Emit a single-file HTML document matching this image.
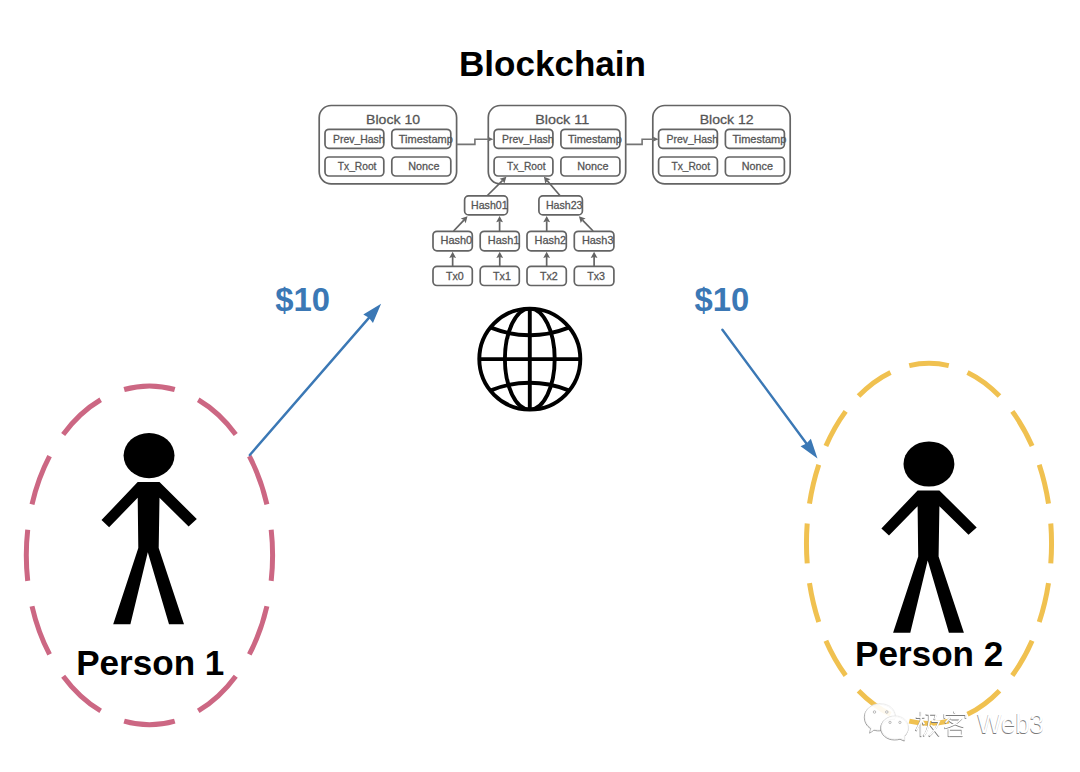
<!DOCTYPE html>
<html><head><meta charset="utf-8"><style>
html,body{margin:0;padding:0;background:#fff;}
body{width:1080px;height:772px;overflow:hidden;}
svg{display:block;font-family:"Liberation Sans", sans-serif;opacity:0.999;}
</style></head><body>
<svg width="1080" height="772" viewBox="0 0 1080 772">
<rect width="1080" height="772" fill="#fff"/>
<rect x="319.20" y="105.50" width="137.40" height="78.30" rx="12" ry="12" fill="none" stroke="#646464" stroke-width="1.7"/>
<rect x="325.00" y="129.30" width="58.80" height="19.00" rx="4" ry="4" fill="none" stroke="#646464" stroke-width="1.7"/>
<rect x="391.80" y="129.30" width="59.00" height="19.00" rx="4" ry="4" fill="none" stroke="#646464" stroke-width="1.7"/>
<rect x="325.00" y="157.00" width="58.80" height="19.00" rx="4" ry="4" fill="none" stroke="#646464" stroke-width="1.7"/>
<rect x="391.80" y="157.00" width="59.00" height="19.00" rx="4" ry="4" fill="none" stroke="#646464" stroke-width="1.7"/>
<text x="366.10" y="124.10" font-size="13.2" fill="#555555" text-anchor="start" font-weight="normal" textLength="54.0" lengthAdjust="spacingAndGlyphs" stroke="#555" stroke-width="0.28">Block 10</text>
<text x="333.00" y="142.60" font-size="10.5" fill="#555555" text-anchor="start" font-weight="normal" textLength="51.5" lengthAdjust="spacingAndGlyphs" stroke="#555" stroke-width="0.28">Prev_Hash</text>
<text x="398.80" y="142.60" font-size="10.5" fill="#555555" text-anchor="start" font-weight="normal" textLength="54.0" lengthAdjust="spacingAndGlyphs" stroke="#555" stroke-width="0.28">Timestamp</text>
<text x="337.80" y="169.60" font-size="10.5" fill="#555555" text-anchor="start" font-weight="normal" textLength="38.6" lengthAdjust="spacingAndGlyphs" stroke="#555" stroke-width="0.28">Tx_Root</text>
<text x="408.20" y="169.60" font-size="10.5" fill="#555555" text-anchor="start" font-weight="normal" textLength="31.2" lengthAdjust="spacingAndGlyphs" stroke="#555" stroke-width="0.28">Nonce</text>
<rect x="488.30" y="105.50" width="137.40" height="78.30" rx="12" ry="12" fill="none" stroke="#646464" stroke-width="1.7"/>
<rect x="494.10" y="129.30" width="58.80" height="19.00" rx="4" ry="4" fill="none" stroke="#646464" stroke-width="1.7"/>
<rect x="560.90" y="129.30" width="59.00" height="19.00" rx="4" ry="4" fill="none" stroke="#646464" stroke-width="1.7"/>
<rect x="494.10" y="157.00" width="58.80" height="19.00" rx="4" ry="4" fill="none" stroke="#646464" stroke-width="1.7"/>
<rect x="560.90" y="157.00" width="59.00" height="19.00" rx="4" ry="4" fill="none" stroke="#646464" stroke-width="1.7"/>
<text x="535.20" y="124.10" font-size="13.2" fill="#555555" text-anchor="start" font-weight="normal" textLength="54.0" lengthAdjust="spacingAndGlyphs" stroke="#555" stroke-width="0.28">Block 11</text>
<text x="502.10" y="142.60" font-size="10.5" fill="#555555" text-anchor="start" font-weight="normal" textLength="51.5" lengthAdjust="spacingAndGlyphs" stroke="#555" stroke-width="0.28">Prev_Hash</text>
<text x="567.90" y="142.60" font-size="10.5" fill="#555555" text-anchor="start" font-weight="normal" textLength="54.0" lengthAdjust="spacingAndGlyphs" stroke="#555" stroke-width="0.28">Timestamp</text>
<text x="506.90" y="169.60" font-size="10.5" fill="#555555" text-anchor="start" font-weight="normal" textLength="38.6" lengthAdjust="spacingAndGlyphs" stroke="#555" stroke-width="0.28">Tx_Root</text>
<text x="577.30" y="169.60" font-size="10.5" fill="#555555" text-anchor="start" font-weight="normal" textLength="31.2" lengthAdjust="spacingAndGlyphs" stroke="#555" stroke-width="0.28">Nonce</text>
<rect x="652.80" y="105.50" width="137.40" height="78.30" rx="12" ry="12" fill="none" stroke="#646464" stroke-width="1.7"/>
<rect x="658.60" y="129.30" width="58.80" height="19.00" rx="4" ry="4" fill="none" stroke="#646464" stroke-width="1.7"/>
<rect x="725.40" y="129.30" width="59.00" height="19.00" rx="4" ry="4" fill="none" stroke="#646464" stroke-width="1.7"/>
<rect x="658.60" y="157.00" width="58.80" height="19.00" rx="4" ry="4" fill="none" stroke="#646464" stroke-width="1.7"/>
<rect x="725.40" y="157.00" width="59.00" height="19.00" rx="4" ry="4" fill="none" stroke="#646464" stroke-width="1.7"/>
<text x="699.70" y="124.10" font-size="13.2" fill="#555555" text-anchor="start" font-weight="normal" textLength="54.0" lengthAdjust="spacingAndGlyphs" stroke="#555" stroke-width="0.28">Block 12</text>
<text x="666.60" y="142.60" font-size="10.5" fill="#555555" text-anchor="start" font-weight="normal" textLength="51.5" lengthAdjust="spacingAndGlyphs" stroke="#555" stroke-width="0.28">Prev_Hash</text>
<text x="732.40" y="142.60" font-size="10.5" fill="#555555" text-anchor="start" font-weight="normal" textLength="54.0" lengthAdjust="spacingAndGlyphs" stroke="#555" stroke-width="0.28">Timestamp</text>
<text x="671.40" y="169.60" font-size="10.5" fill="#555555" text-anchor="start" font-weight="normal" textLength="38.6" lengthAdjust="spacingAndGlyphs" stroke="#555" stroke-width="0.28">Tx_Root</text>
<text x="741.80" y="169.60" font-size="10.5" fill="#555555" text-anchor="start" font-weight="normal" textLength="31.2" lengthAdjust="spacingAndGlyphs" stroke="#555" stroke-width="0.28">Nonce</text>
<path d="M456.6,144.4 H474.9 V139.2 H489.4" fill="none" stroke="#747474" stroke-width="1.6"/>
<path d="M493.4,139.2 L487.4,136.6 L488.59999999999997,139.2 L487.4,141.8 Z" fill="#6a6a6a"/>
<path d="M625.2,144.4 H642.1 V139.2 H654.6" fill="none" stroke="#747474" stroke-width="1.6"/>
<path d="M658.6,139.2 L652.6,136.6 L653.8000000000001,139.2 L652.6,141.8 Z" fill="#6a6a6a"/>
<rect x="433.00" y="231.30" width="39.30" height="19.50" rx="4" ry="4" fill="none" stroke="#646464" stroke-width="1.7"/>
<rect x="433.00" y="266.40" width="39.30" height="19.10" rx="4" ry="4" fill="none" stroke="#646464" stroke-width="1.7"/>
<text x="440.60" y="244.20" font-size="10.3" fill="#555555" text-anchor="start" font-weight="normal" textLength="31.6" lengthAdjust="spacingAndGlyphs" stroke="#555" stroke-width="0.28">Hash0</text>
<text x="445.90" y="280.00" font-size="10.3" fill="#555555" text-anchor="start" font-weight="normal" textLength="17.8" lengthAdjust="spacingAndGlyphs" stroke="#555" stroke-width="0.28">Tx0</text>
<rect x="480.20" y="231.30" width="39.10" height="19.50" rx="4" ry="4" fill="none" stroke="#646464" stroke-width="1.7"/>
<rect x="480.20" y="266.40" width="39.10" height="19.10" rx="4" ry="4" fill="none" stroke="#646464" stroke-width="1.7"/>
<text x="487.80" y="244.20" font-size="10.3" fill="#555555" text-anchor="start" font-weight="normal" textLength="31.6" lengthAdjust="spacingAndGlyphs" stroke="#555" stroke-width="0.28">Hash1</text>
<text x="493.10" y="280.00" font-size="10.3" fill="#555555" text-anchor="start" font-weight="normal" textLength="17.8" lengthAdjust="spacingAndGlyphs" stroke="#555" stroke-width="0.28">Tx1</text>
<rect x="527.00" y="231.30" width="39.30" height="19.50" rx="4" ry="4" fill="none" stroke="#646464" stroke-width="1.7"/>
<rect x="527.00" y="266.40" width="39.30" height="19.10" rx="4" ry="4" fill="none" stroke="#646464" stroke-width="1.7"/>
<text x="534.60" y="244.20" font-size="10.3" fill="#555555" text-anchor="start" font-weight="normal" textLength="31.6" lengthAdjust="spacingAndGlyphs" stroke="#555" stroke-width="0.28">Hash2</text>
<text x="539.90" y="280.00" font-size="10.3" fill="#555555" text-anchor="start" font-weight="normal" textLength="17.8" lengthAdjust="spacingAndGlyphs" stroke="#555" stroke-width="0.28">Tx2</text>
<rect x="574.30" y="231.30" width="39.60" height="19.50" rx="4" ry="4" fill="none" stroke="#646464" stroke-width="1.7"/>
<rect x="574.30" y="266.40" width="39.60" height="19.10" rx="4" ry="4" fill="none" stroke="#646464" stroke-width="1.7"/>
<text x="581.90" y="244.20" font-size="10.3" fill="#555555" text-anchor="start" font-weight="normal" textLength="31.6" lengthAdjust="spacingAndGlyphs" stroke="#555" stroke-width="0.28">Hash3</text>
<text x="587.20" y="280.00" font-size="10.3" fill="#555555" text-anchor="start" font-weight="normal" textLength="17.8" lengthAdjust="spacingAndGlyphs" stroke="#555" stroke-width="0.28">Tx3</text>
<rect x="464.60" y="195.90" width="42.90" height="19.00" rx="4" ry="4" fill="none" stroke="#646464" stroke-width="1.7"/>
<rect x="538.90" y="195.90" width="43.50" height="19.00" rx="4" ry="4" fill="none" stroke="#646464" stroke-width="1.7"/>
<text x="471.00" y="209.00" font-size="10.3" fill="#555555" text-anchor="start" font-weight="normal" textLength="36.6" lengthAdjust="spacingAndGlyphs" stroke="#555" stroke-width="0.28">Hash01</text>
<text x="545.90" y="209.00" font-size="10.3" fill="#555555" text-anchor="start" font-weight="normal" textLength="36.6" lengthAdjust="spacingAndGlyphs" stroke="#555" stroke-width="0.28">Hash23</text>
<line x1="452.65" y1="266.40" x2="452.65" y2="257.00" stroke="#646464" stroke-width="1.7"/>
<path d="M452.65,251.80 L456.05,258.00 L452.65,257.00 L449.25,258.00 Z" fill="#646464"/>
<line x1="499.75" y1="266.40" x2="499.75" y2="257.00" stroke="#646464" stroke-width="1.7"/>
<path d="M499.75,251.80 L503.15,258.00 L499.75,257.00 L496.35,258.00 Z" fill="#646464"/>
<line x1="546.65" y1="266.40" x2="546.65" y2="257.00" stroke="#646464" stroke-width="1.7"/>
<path d="M546.65,251.80 L550.05,258.00 L546.65,257.00 L543.25,258.00 Z" fill="#646464"/>
<line x1="594.10" y1="266.40" x2="594.10" y2="257.00" stroke="#646464" stroke-width="1.7"/>
<path d="M594.10,251.80 L597.50,258.00 L594.10,257.00 L590.70,258.00 Z" fill="#646464"/>
<line x1="453.60" y1="231.00" x2="463.93" y2="220.08" stroke="#646464" stroke-width="1.7"/>
<path d="M467.50,216.30 L465.71,223.14 L463.93,220.08 L460.77,218.47 Z" fill="#646464"/>
<line x1="499.60" y1="231.00" x2="499.60" y2="221.20" stroke="#646464" stroke-width="1.7"/>
<path d="M499.60,216.00 L503.00,222.20 L499.60,221.20 L496.20,222.20 Z" fill="#646464"/>
<line x1="546.70" y1="231.00" x2="546.70" y2="221.20" stroke="#646464" stroke-width="1.7"/>
<path d="M546.70,216.00 L550.10,222.20 L546.70,221.20 L543.30,222.20 Z" fill="#646464"/>
<line x1="593.10" y1="231.00" x2="582.51" y2="220.04" stroke="#646464" stroke-width="1.7"/>
<path d="M578.90,216.30 L585.65,218.40 L582.51,220.04 L580.76,223.12 Z" fill="#646464"/>
<line x1="487.40" y1="195.50" x2="502.69" y2="180.45" stroke="#646464" stroke-width="1.7"/>
<path d="M506.40,176.80 L504.37,183.57 L502.69,180.45 L499.60,178.73 Z" fill="#646464"/>
<line x1="559.90" y1="195.50" x2="547.28" y2="180.75" stroke="#646464" stroke-width="1.7"/>
<path d="M543.90,176.80 L550.51,179.30 L547.28,180.75 L545.35,183.72 Z" fill="#646464"/>
<text x="552.50" y="75.60" font-size="35.05" fill="#000" text-anchor="middle" font-weight="bold">Blockchain</text>
<text x="275.30" y="310.60" font-size="32.8" fill="#3b78b5" text-anchor="start" font-weight="bold">$10</text>
<text x="694.60" y="310.60" font-size="32.8" fill="#3b78b5" text-anchor="start" font-weight="bold">$10</text>
<defs><clipPath id="gc"><circle cx="529.8" cy="359.1" r="50.5"/></clipPath></defs>
<g fill="none" stroke="#000" stroke-width="3.9">
<circle cx="529.8" cy="359.1" r="50.5"/>
<g clip-path="url(#gc)">
<line x1="529.8" y1="308.6" x2="529.8" y2="409.6"/>
<line x1="479.29999999999995" y1="359.1" x2="580.3" y2="359.1"/>
<ellipse cx="529.8" cy="359.1" rx="24.9" ry="50.5"/>
<circle cx="529.8" cy="233.5" r="101.8"/>
<circle cx="529.8" cy="484.5" r="101.8"/>
</g></g>
<path d="M149.45,385.9 A123.15,169.4 0 0 1 149.45,724.6999999999999 A123.15,169.4 0 0 1 149.45,385.9 Z" pathLength="1000" fill="none" stroke="#cc6783" stroke-width="5" stroke-dasharray="55.5556 27.7778" stroke-dashoffset="27.7778"/>
<path d="M929.0,363.29999999999995 A122.6,180.1 0 0 1 929.0,723.5 A122.6,180.1 0 0 1 929.0,363.29999999999995 Z" pathLength="1000" fill="none" stroke="#f0c150" stroke-width="5" stroke-dasharray="41.6667 20.8333" stroke-dashoffset="20.8333"/>
<line x1="249.80" y1="455.00" x2="368.90" y2="317.84" stroke="#3b78b5" stroke-width="2.4" stroke-linecap="round"/>
<path d="M381.10,303.80 L372.95,322.95 L368.90,317.84 L363.29,314.55 Z" fill="#3b78b5"/>
<line x1="722.40" y1="329.70" x2="806.45" y2="443.44" stroke="#3b78b5" stroke-width="2.4" stroke-linecap="round"/>
<path d="M817.50,458.40 L800.59,446.28 L806.45,443.44 L810.88,438.67 Z" fill="#3b78b5"/>
<g id="p2"><ellipse cx="928.95" cy="464.0" rx="25.45" ry="22.6" fill="#000"/><path d="M917.6,490.4 L881.4,528.5 L889,535.6 L917.6,506.2 L918.2,556.5 L893.1,632.7 L910.3,632.7 L927.7,560.6 L948.9,632.7 L963.9,632.7 L938.6,556.5 L939.4,506.2 L968.5,534.8 L976.7,527.4 L939.4,490.4 Z" fill="#000"/></g>
<use href="#p2" transform="translate(-779.9,-8.4)"/>
<text x="150.30" y="675.30" font-size="35.1" fill="#000" text-anchor="middle" font-weight="bold">Person 1</text>
<text x="929.20" y="666.20" font-size="35.1" fill="#000" text-anchor="middle" font-weight="bold">Person 2</text>
<path d="M880.2,703.5 C888.9,703.5 895.5,709.2 895.5,716.3 C895.5,717 895.4,717.7 895.3,718.4 C888,717.8 881.2,722.3 881.2,728.6 C881.2,729 881.2,729.4 881.3,729.8 C879.2,730.2 876.8,730 874.5,729.3 L870.2,732.3 L871.2,727.7 C867.2,725.3 864.9,721.1 864.9,716.3 C864.9,709.2 871.5,703.5 880.2,703.5 Z" transform="translate(-0.55,0.85)" fill="none" stroke="#7a7a7a" stroke-width="0.9" stroke-opacity="0.85"/>
<path d="M880.2,703.5 C888.9,703.5 895.5,709.2 895.5,716.3 C895.5,717 895.4,717.7 895.3,718.4 C888,717.8 881.2,722.3 881.2,728.6 C881.2,729 881.2,729.4 881.3,729.8 C879.2,730.2 876.8,730 874.5,729.3 L870.2,732.3 L871.2,727.7 C867.2,725.3 864.9,721.1 864.9,716.3 C864.9,709.2 871.5,703.5 880.2,703.5 Z" fill="#fff" fill-opacity="0.9" stroke="#e2e2e2" stroke-width="0.5"/>
<path d="M894.9,715.7 C902.5,715.7 908.6,721 908.6,727.4 C908.6,730.6 907.2,733.4 904.8,735.5 L904.8,740.2 L900.6,738.4 C898.8,738.9 896.9,739.1 894.9,739.1 C887.3,739.1 881.2,733.8 881.2,727.4 C881.2,721 887.3,715.7 894.9,715.7 Z" transform="translate(-0.55,0.85)" fill="none" stroke="#7a7a7a" stroke-width="0.9" stroke-opacity="0.85"/>
<path d="M894.9,715.7 C902.5,715.7 908.6,721 908.6,727.4 C908.6,730.6 907.2,733.4 904.8,735.5 L904.8,740.2 L900.6,738.4 C898.8,738.9 896.9,739.1 894.9,739.1 C887.3,739.1 881.2,733.8 881.2,727.4 C881.2,721 887.3,715.7 894.9,715.7 Z" fill="#fff" fill-opacity="0.9" stroke="#e2e2e2" stroke-width="0.5"/>
<g fill="#fff" stroke="#999" stroke-width="0.65">
<circle cx="874.5" cy="712" r="1.25"/><circle cx="886.8" cy="712" r="1.25"/><circle cx="890" cy="722.4" r="1.15"/><circle cx="899.9" cy="722.4" r="1.15"/>
</g>
<g transform="translate(915.45,711.85)" fill="none" stroke="#7a7a7a" stroke-width="1.7">
<path d="M0.3,6.3 L9,6"/>
<path d="M5.1,0 V25.3"/>
<path d="M5.1,9.6 L0.3,19.3"/>
<path d="M5.7,9 L8.4,13.3"/>
<path d="M10.2,3 H20.5 L18.7,8.4"/>
<path d="M13.3,3 V9.6 Q12.5,19 7.8,24.7"/>
<path d="M15.7,10.2 H23.3 Q20,19 13.3,24.7"/>
<path d="M15.1,13.9 L23.5,24.7"/>
</g>
<g transform="translate(916,711)" fill="none" stroke="#fff" stroke-width="1.6">
<path d="M0.3,6.3 L9,6"/>
<path d="M5.1,0 V25.3"/>
<path d="M5.1,9.6 L0.3,19.3"/>
<path d="M5.7,9 L8.4,13.3"/>
<path d="M10.2,3 H20.5 L18.7,8.4"/>
<path d="M13.3,3 V9.6 Q12.5,19 7.8,24.7"/>
<path d="M15.7,10.2 H23.3 Q20,19 13.3,24.7"/>
<path d="M15.1,13.9 L23.5,24.7"/>
</g>
<g transform="translate(942.85,711.5500000000001)" fill="none" stroke="#7a7a7a" stroke-width="1.7">
<path d="M11.4,0 V2.4"/>
<path d="M1.5,7.2 V3.6 H22.6 V7.2"/>
<path d="M7.5,5.7 L2.1,12"/>
<path d="M7.5,8.1 H17.8 Q12,14.5 1.5,16.9"/>
<path d="M6.3,9.6 Q12,14 20.5,15.9"/>
<path d="M5.7,17.8 V25.5"/>
<path d="M5.7,24.7 H18.9"/>
<path d="M18.9,17.8 V25.5"/>
<path d="M5.7,18.3 H18.9"/>
</g>
<g transform="translate(943.4,710.7)" fill="none" stroke="#fff" stroke-width="1.6">
<path d="M11.4,0 V2.4"/>
<path d="M1.5,7.2 V3.6 H22.6 V7.2"/>
<path d="M7.5,5.7 L2.1,12"/>
<path d="M7.5,8.1 H17.8 Q12,14.5 1.5,16.9"/>
<path d="M6.3,9.6 Q12,14 20.5,15.9"/>
<path d="M5.7,17.8 V25.5"/>
<path d="M5.7,24.7 H18.9"/>
<path d="M18.9,17.8 V25.5"/>
<path d="M5.7,18.3 H18.9"/>
</g>
<text x="976.95" y="734.0500000000001" font-size="27" textLength="66.5" lengthAdjust="spacingAndGlyphs" fill="#7a7a7a" stroke="#7a7a7a" stroke-width="0.15">Web3</text>
<text x="977.5" y="733.2" font-size="27" textLength="66.5" lengthAdjust="spacingAndGlyphs" fill="#fff" stroke="#fff" stroke-width="0.15">Web3</text>
</svg>
</body></html>
